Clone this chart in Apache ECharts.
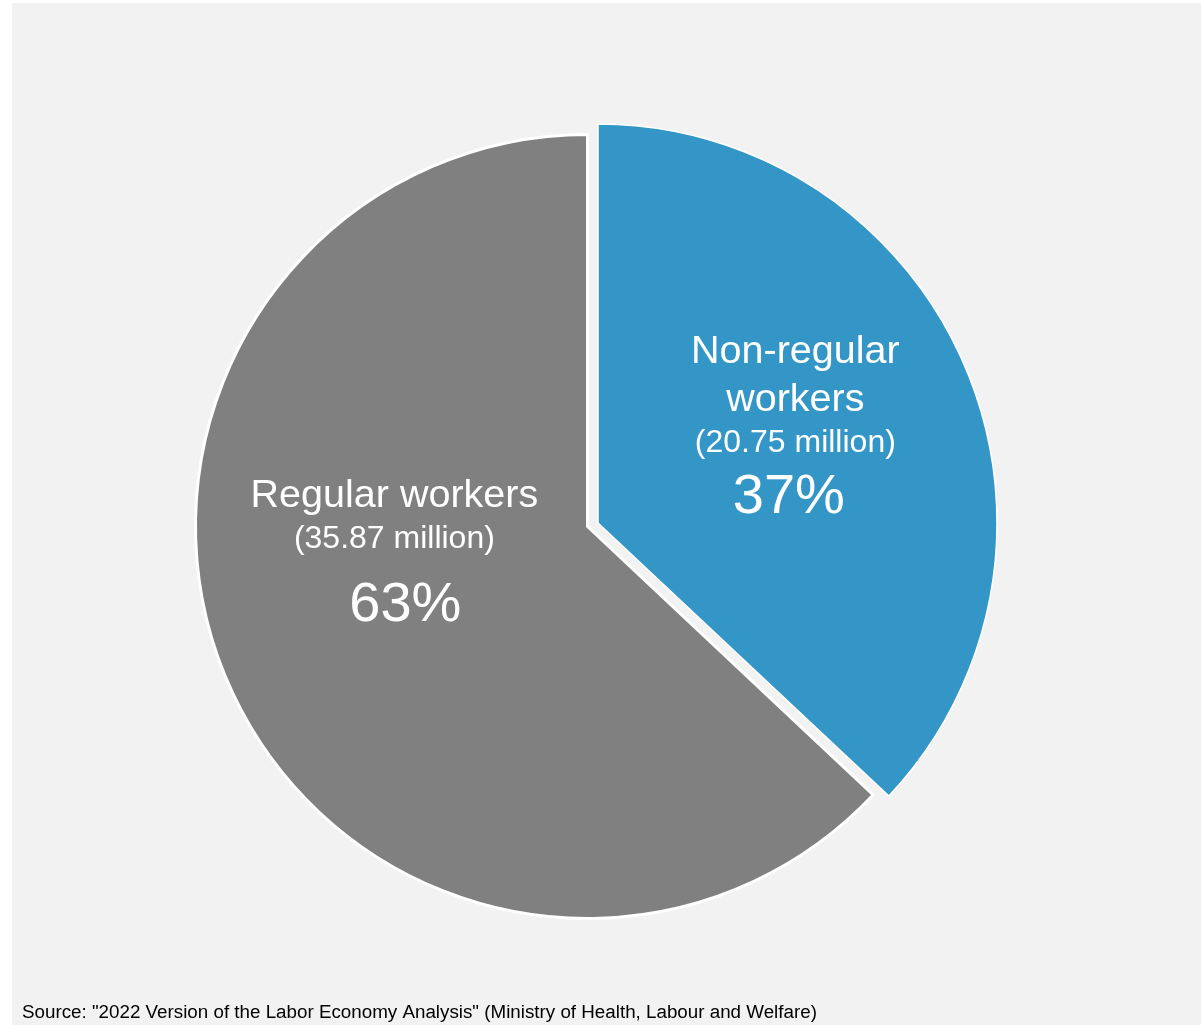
<!DOCTYPE html>
<html>
<head>
<meta charset="utf-8">
<script src="https://cdn.jsdelivr.net/npm/echarts@6/dist/echarts.min.js"></script>
<style>
  html, body { margin: 0; padding: 0; background: #ffffff; }
  #chart { position: absolute; left: 12px; top: 3px; width: 1189px; height: 1022px; background: #f2f2f2; }
</style>
</head>
<body>
<div id="chart"></div>
<script>
// ---- data ----
const categories = ['Non-regular workers', 'Regular workers'];
const labelNames = ['Non-regular\nworkers', 'Regular workers'];
const sharePct = [37, 63];            // plotted shares (%)
const millions = [20.75, 35.87];       // workers (million)
const colors = ['#3396c6', '#808080'];
const sourceText = 'Source: "2022 Version of the Labor Economy Analysis" (Ministry of Health, Labour and Welfare)';

const FONT = "'Liberation Sans', Arial, sans-serif";
const transparent = { color: 'rgba(0,0,0,0)', borderWidth: 0 };

function labelFor(i, mLH, pLH, pPad) {
  return {
    show: true,
    position: 'inside',
    formatter: '{n|' + labelNames[i] + '}\n{m|(' + millions[i].toFixed(2) + ' million)}\n{p|' + sharePct[i] + '%}',
    rich: {
      n: { fontSize: 39.5, lineHeight: 48, color: '#ffffff', fontFamily: FONT, align: 'center' },
      m: { fontSize: 32, lineHeight: mLH, color: '#ffffff', fontFamily: FONT, align: 'center' },
      p: { fontSize: 56, lineHeight: pLH, color: '#ffffff', fontFamily: FONT, align: 'center', padding: pPad }
    }
  };
}

const grayData = categories.map((c, i) => i === 1
  ? { name: c, value: sharePct[i], itemStyle: { color: colors[i], borderColor: '#ffffff', borderWidth: 3 }, label: labelFor(i, 38, 94, [0, 0, 0, 22]) }
  : { name: c, value: sharePct[i], itemStyle: transparent, label: { show: false } });

const blueData = categories.map((c, i) => i === 0
  ? { name: c, value: sharePct[i], itemStyle: { color: colors[i], borderColor: '#ffffff', borderWidth: 1.5 }, label: labelFor(i, 38, 71, [0, 13, 0, 0]) }
  : { name: c, value: sharePct[i], itemStyle: transparent, label: { show: false } });

const chart = echarts.init(document.getElementById('chart'), null, { renderer: 'canvas' });
chart.setOption({
  backgroundColor: '#f2f2f2',
  animation: false,
  textStyle: { fontFamily: FONT },
  graphic: [{
    type: 'text', x: 10, y: 1010,
    style: { text: sourceText, fontSize: 18.8, fill: '#000000', fontFamily: FONT, verticalAlign: 'middle' }
  }],
  series: [
    {
      type: 'pie', silent: true,
      center: [575.5, 523.5], radius: 392,
      startAngle: 90, clockwise: true,
      avoidLabelOverlap: false,
      labelLine: { show: false },
      labelLayout: { dx: -10.5, dy: -43 },
      data: grayData
    },
    {
      type: 'pie', silent: true,
      center: [586, 520], radius: 399,
      startAngle: 90, clockwise: true,
      avoidLabelOverlap: false,
      labelLine: { show: false },
      labelLayout: { dx: 11.5, dy: -12 },
      data: blueData
    }
  ]
});
</script>
</body>
</html>
